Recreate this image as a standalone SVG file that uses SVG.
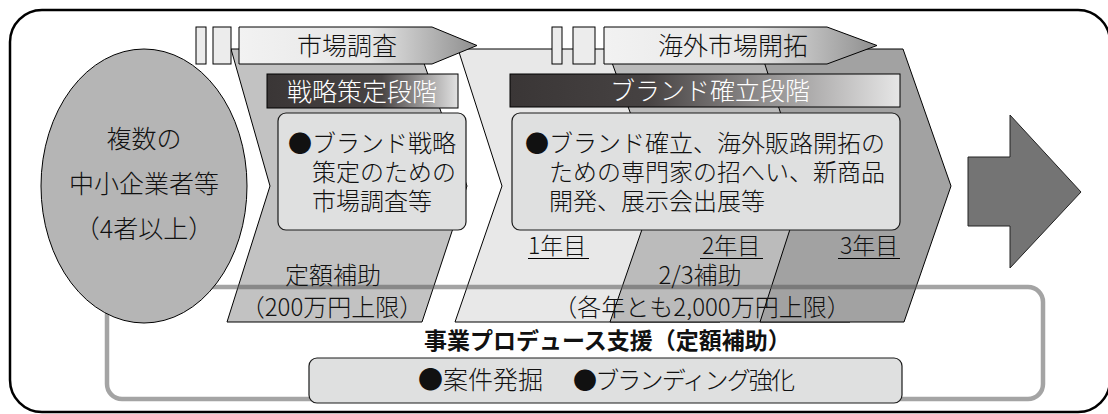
<svg xmlns="http://www.w3.org/2000/svg" width="1108" height="414" viewBox="0 0 1108 414">
<defs>
  <linearGradient id="gArrow" x1="0" y1="0" x2="1" y2="0">
    <stop offset="0" stop-color="#f2f2f2"/>
    <stop offset="0.55" stop-color="#e6e6e6"/>
    <stop offset="1" stop-color="#8e8e8e"/>
  </linearGradient>
  <linearGradient id="gHead1" x1="0" y1="0" x2="1" y2="0">
    <stop offset="0" stop-color="#3a3636"/>
    <stop offset="0.6" stop-color="#484444"/>
    <stop offset="1" stop-color="#e2e2e2"/>
  </linearGradient>
  <linearGradient id="gHead2" x1="0" y1="0" x2="1" y2="0">
    <stop offset="0" stop-color="#3a3636"/>
    <stop offset="0.35" stop-color="#464242"/>
    <stop offset="1" stop-color="#e6e6e6"/>
  </linearGradient>
</defs>
<style>
  text { font-family: "Noto Sans CJK JP", "Noto Sans", sans-serif; fill: #111; font-weight: 300; }
  .t23 { font-size: 23px; }
  .t24 { font-size: 24px; }
  .t25 { font-size: 25px; }
  .w { fill: #fff; }
  .b { font-weight: bold; }
  .m { text-anchor: middle; }
  .chev { stroke: #000; stroke-width: 1; stroke-linejoin: miter; }
  .bar { fill: #ececec; stroke: #000; stroke-width: 1; }
  .arr { fill: url(#gArrow); stroke: #000; stroke-width: 1; }
  .box { fill: #dfe0e0; stroke: #1a1a1a; stroke-width: 1.2; }
  .ul { stroke: #000; stroke-width: 1.2; }
</style>

<rect id="frame" x="10" y="10" width="1100" height="402" rx="32" ry="32" fill="none" stroke="#000" stroke-width="2.5"/>

<g id="phases">
  <polygon id="phaseA" class="chev" fill="#c2c2c2" points="231,49 419,49 467,186 422,322 227,322 270,186"/>
  <polygon id="phaseB" class="chev" fill="#e8e8e8" points="458,49 720,49 765,186 720,322 455,322 502,186"/>
  <polygon id="phaseC" class="chev" fill="#bbbbbb" points="607,49 850,49 898,186 850,322 610,322 657,186"/>
  <polygon id="phaseD" class="chev" fill="#a2a2a2" points="760,49 903,49 951,186 904,322 760,322 804,186"/>
</g>

<g id="support-frame">
  <rect x="107" y="287" width="936" height="112" rx="15" ry="15" fill="none" stroke="#5a5a5a" stroke-opacity="0.55" stroke-width="4.5"/>
</g>

<g id="companies">
  <ellipse cx="144" cy="186" rx="103" ry="137" fill="#b5b5b5" stroke="#000" stroke-width="1"/>
  <text class="t25 m" x="144" y="147.5">複数の<tspan x="144" dy="45">中小企業者等</tspan><tspan x="144" dy="45">（4者以上）</tspan></text>
</g>

<g id="market-research">
  <rect class="bar" x="196" y="27" width="10" height="37"/>
  <rect class="bar" x="213" y="27" width="18" height="37"/>
  <polygon class="arr" points="239,27 432,27 477,45.5 432,64 239,64"/>
  <text class="t25 m" x="347" y="55">市場調査</text>
</g>

<g id="overseas">
  <rect class="bar" x="552" y="27" width="10" height="37"/>
  <rect class="bar" x="573" y="27" width="22" height="37"/>
  <polygon class="arr" points="604,27 827,27 877,45.5 827,64 604,64"/>
  <text class="t25 m" x="733" y="55">海外市場開拓</text>
</g>

<g id="strategy-stage">
  <rect x="267" y="74" width="191" height="34" fill="url(#gHead1)" stroke="#000" stroke-width="1"/>
  <text class="t25 m w" x="362" y="100.5">戦略策定段階</text>
  <rect class="box" x="278" y="113" width="188" height="117" rx="8" ry="8"/>
  <text class="t24" x="288" y="152">●ブランド戦略<tspan x="312" dy="29">策定のための</tspan><tspan x="312" dy="29">市場調査等</tspan></text>
  <text class="t24 m" x="333" y="284">定額補助</text>
  <text class="t24 m" x="332" y="316">（200万円上限）</text>
</g>

<g id="brand-stage">
  <rect x="510" y="74" width="390" height="33" fill="url(#gHead2)" stroke="#000" stroke-width="1"/>
  <text class="t25 m w" x="710" y="100">ブランド確立段階</text>
  <rect class="box" x="512" y="113" width="388" height="117" rx="8" ry="8"/>
  <text class="t24" x="525" y="152">●ブランド確立、海外販路開拓の<tspan x="549" dy="29">ための専門家の招へい、新商品</tspan><tspan x="549" dy="29">開発、展示会出展等</tspan></text>
  <text class="t23" x="528" y="254">1年目</text>
  <text class="t23" x="702" y="254">2年目</text>
  <text class="t23" x="840" y="254">3年目</text>
  <line class="ul" x1="528" y1="258.5" x2="589" y2="258.5"/>
  <line class="ul" x1="700" y1="258.5" x2="763" y2="258.5"/>
  <line class="ul" x1="838" y1="258.5" x2="900" y2="258.5"/>
  <text class="t24 m" x="700" y="284">2/3補助</text>
  <text class="t24 m" x="702" y="316">（各年とも2,000万円上限）</text>
</g>

<g id="produce-support">
  <text class="t23 b" x="424" y="349">事業プロデュース支援（定額補助）</text>
  <rect class="box" x="309" y="358" width="593" height="45" rx="8" ry="8"/>
  <text class="t25" x="418" y="389">●案件発掘</text>
  <text class="t24" x="573" y="389" textLength="222" lengthAdjust="spacing">●ブランディング強化</text>
</g>

<g id="next-arrow">
  <polygon points="968,157 1010,157 1010,115 1081,192 1010,268 1010,226 968,226" fill="#747474" stroke="#222" stroke-width="1"/>
</g>
</svg>
